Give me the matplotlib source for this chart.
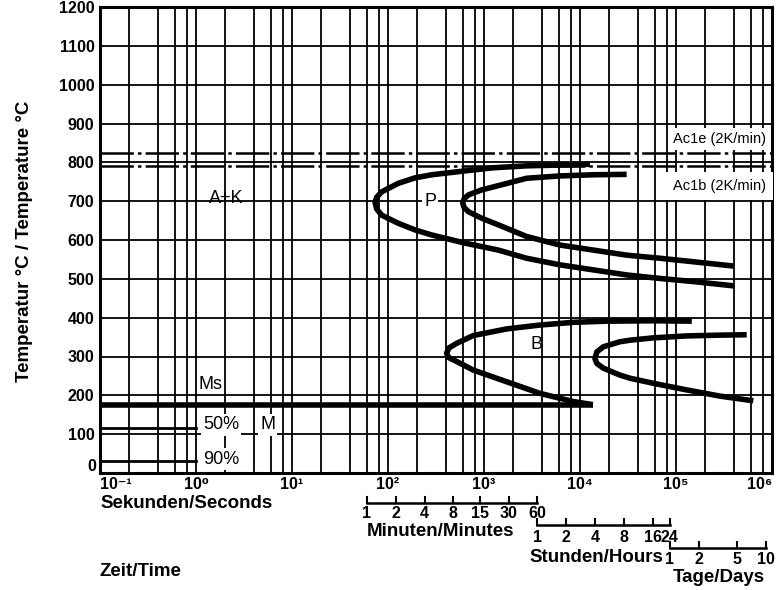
import matplotlib
matplotlib.use("Agg")
import matplotlib.pyplot as plt
import matplotlib.transforms as mtransforms

plt.rcParams['font.family'] = ['Liberation Sans', 'DejaVu Sans']
plt.rcParams['lines.scale_dashes'] = False

# ---------------- data ----------------
# time in seconds, temperature in degC (read along each C-curve: upper end -> nose -> lower end)
p_start_t = [12700, 6190, 2780, 1250, 634, 285, 191, 128, 86, 76.2, 73.3, 76.2, 86, 128, 191, 285, 634, 1410, 2780, 6190, 13800, 30600, 68100, 151000, 395000]
p_start_T = [795, 793, 791, 786, 778, 768, 760, 746, 724, 710, 697, 680, 664, 643, 626, 613, 592, 574, 553, 536, 523, 510, 501, 493, 482]

p_end_t = [30600, 13800, 6190, 2780, 1410, 946, 687, 620, 600, 620, 687, 946, 1410, 2780, 6190, 13800, 30600, 68100, 151000, 395000]
p_end_T = [769, 768, 765, 759, 740, 729, 716, 706, 695, 684, 673, 656, 639, 609, 587, 574, 561, 553, 544, 533]

b_start_t = [146000, 58100, 19000, 8510, 3830, 1720, 774, 520, 431, 408, 431, 520, 774, 1720, 3830, 8510, 13600]
b_start_T = [391, 392, 391, 388, 381, 371, 354, 334, 322, 308, 297, 287, 265, 235, 205, 184, 176]

b_end_t = [545000, 287000, 129000, 58100, 33200, 26100, 17500, 15000, 14300, 15000, 17500, 26100, 33200, 58100, 129000, 287000, 638000]
b_end_T = [356, 355, 353, 348, 342, 338, 325, 312, 295, 282, 270, 252, 244, 231, 214, 198, 186]

ms_t = [0.1, 13600]
ms_T = [175, 175]
m50_t = [0.1, 1.0]
m50_T = [115, 115]
m90_t = [0.1, 1.0]
m90_T = [32, 32]

ac1e_T = 825
ac1b_T = 790

y_ticks = list(range(0, 1300, 100))
x_ticks = [1e-1, 1e0, 1e1, 1e2, 1e3, 1e4, 1e5, 1e6]
x_tick_labels = ['10⁻¹', '10⁰', '10¹', '10²', '10³', '10⁴', '10⁵', '10⁶']
grid_mult = [1, 2, 4, 6, 8]

minutes = [1, 2, 4, 8, 15, 30, 60]
hours = [1, 2, 4, 8, 16, 24]
days = [1, 2, 5, 10]

# ---------------- figure ----------------
W, H = 780, 590
fig = plt.figure(figsize=(W / 100, H / 100), dpi=100)
L, R, T0, B0 = 100, 772, 7, 473
ax = fig.add_axes([L / W, 1 - B0 / H, (R - L) / W, (B0 - T0) / H])
ax.set_xscale('log')
ax.set_xlim(0.1, 1e6)
ax.set_ylim(0, 1200)

# grid
for d in range(-1, 6):
    for m in grid_mult:
        v = m * 10.0 ** d
        if 0.1 < v < 1e6:
            ax.axvline(v, color='black', lw=1.3, zorder=1)
for y in y_ticks[1:-1]:
    ax.axhline(y, color='black', lw=1.3, zorder=1)

for s in ax.spines.values():
    s.set_linewidth(2.2)

TF = 11.5
ax.set_yticks(y_ticks)
ax.set_yticklabels([str(v) if v != 0 else '' for v in y_ticks], fontsize=TF, fontweight='bold')
ax.set_xticks(x_ticks)
ax.set_xticklabels(x_tick_labels, fontsize=TF, fontweight='bold')
ax.minorticks_off()
ax.tick_params(axis='both', length=0)
ax.tick_params(axis='y', pad=4)
ax.tick_params(axis='x', pad=3)
xl = ax.get_xticklabels()
xl[0].set_ha('left')
xl[-1].set_ha('right')
# zero label lifted slightly (as in the reference)
ax.text(-0.006, 18, '0', transform=mtransforms.blended_transform_factory(ax.transAxes, ax.transData),
        fontsize=TF, fontweight='bold', ha='right', va='center')

# Ac1 lines
ax.plot([0.1, 1e6], [ac1e_T, ac1e_T], color='black', lw=1.8, dashes=(24, 3, 2.5, 3), zorder=2)
ax.plot([0.1, 1e6], [ac1b_T, ac1b_T], color='black', lw=1.8, dashes=(24, 3, 2.5, 3), zorder=2)

# transformation curves
kw = dict(color='black', lw=4, solid_capstyle='butt', solid_joinstyle='round', zorder=3)
ax.plot(p_start_t, p_start_T, **kw)
ax.plot(p_end_t, p_end_T, **kw)
ax.plot(b_start_t, b_start_T, **kw)
ax.plot(b_end_t, b_end_T, **kw)
ax.plot(ms_t, ms_T, **kw)
ax.plot(m50_t, m50_T, color='black', lw=2, zorder=3)
ax.plot(m90_t, m90_T, color='black', lw=2, zorder=3)

# labels in plot
LF = 13
wb = dict(facecolor='white', edgecolor='none', pad=1.5)
ax.text(93000, 860, 'Ac1e (2K/min)', fontsize=10.5, ha='left', va='center',
        bbox=dict(facecolor='white', edgecolor='none', pad=3), zorder=4)
ax.text(93000, 739, 'Ac1b (2K/min)', fontsize=10.5, ha='left', va='center',
        bbox=dict(facecolor='white', edgecolor='none', pad=5), zorder=4)
ax.text(2.05, 708, 'A+K', fontsize=LF, ha='center', va='center', zorder=4)
ax.text(274, 698, 'P', fontsize=LF, ha='center', va='center', bbox=wb, zorder=4)
ax.text(3560, 330, 'B', fontsize=LF, ha='center', va='center', zorder=4)
ax.text(1.07, 227, 'Ms', fontsize=LF, ha='left', va='center', zorder=4)
ax.text(1.18, 124, '50%', fontsize=LF, ha='left', va='center', bbox=wb, zorder=4)
ax.text(5.6, 124, 'M', fontsize=LF, ha='center', va='center', bbox=wb, zorder=4)
ax.text(1.18, 36, '90%', fontsize=LF, ha='left', va='center', bbox=wb, zorder=4)

# axis titles
BF = 13.5
fig.text(25 / W, 1 - 241 / H, 'Temperatur °C / Temperature °C', rotation=90, fontsize=BF,
         fontweight='bold', ha='center', va='center')
fig.text(L / W, 1 - 503 / H, 'Sekunden/Seconds', fontsize=BF, fontweight='bold', ha='left', va='center')
fig.text(L / W, 1 - 571 / H, 'Zeit/Time', fontsize=BF, fontweight='bold', ha='left', va='center')

# secondary time scales
tr = mtransforms.blended_transform_factory(ax.transData, fig.transFigure)

def scale_bar(secs, labels, ypix, ylab, title, title_xy, title_ha='left'):
    yf = 1 - ypix / H
    tick = 6 / H
    ax.plot([secs[0], secs[-1]], [yf, yf], transform=tr, color='black', lw=1.8, clip_on=False)
    for s_, lab in zip(secs, labels):
        ax.plot([s_, s_], [yf, yf + tick], transform=tr, color='black', lw=1.5, clip_on=False)
        ax.text(s_, 1 - ylab / H, lab, transform=tr, fontsize=TF, fontweight='bold',
                ha='center', va='center', clip_on=False)
    fig.text(title_xy[0] / W, 1 - title_xy[1] / H, title, fontsize=BF, fontweight='bold',
             ha=title_ha, va='center')

scale_bar([60 * m for m in minutes], [str(m) for m in minutes], 503, 514,
          'Minuten/Minutes', (367, 532))
scale_bar([3600 * h for h in hours], [str(h) for h in hours], 525, 537,
          'Stunden/Hours', (663, 558), 'right')
scale_bar([86400 * d for d in days], [str(d) for d in days], 548, 559,
          'Tage/Days', (673, 577))

fig.savefig('out.png', dpi=100)
